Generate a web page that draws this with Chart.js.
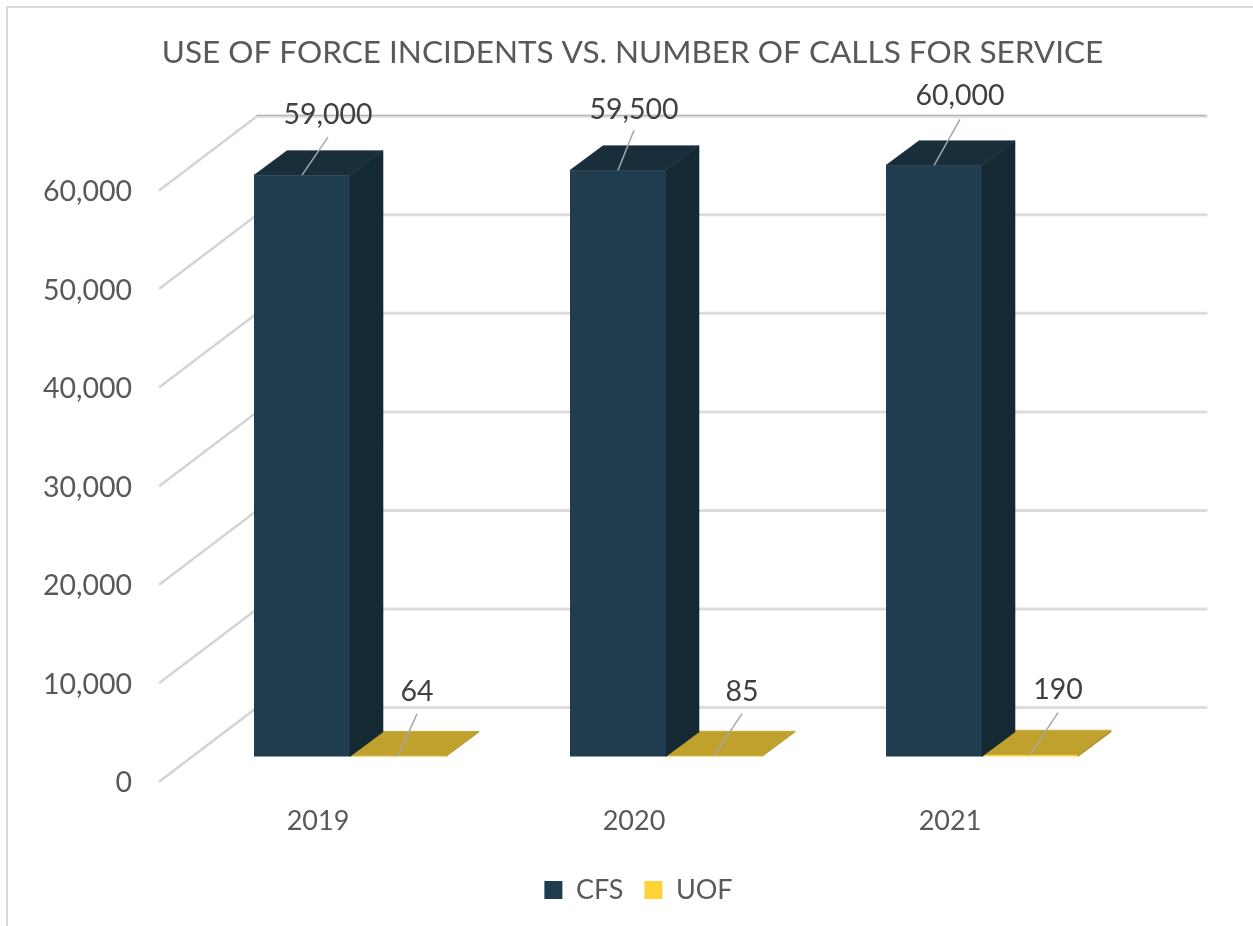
<!DOCTYPE html>
<html>
<head>
<meta charset="utf-8">
<title>Use of force incidents</title>
<script src="https://cdn.jsdelivr.net/npm/chart.js@4"></script>
<style>
  html, body { margin: 0; padding: 0; background: #fff; }
  #wrap { position: relative; width: 1253px; height: 926px; overflow: hidden; }
  #frame { position: absolute; left: 6px; top: 6px; width: 1253px; height: 926px; border: 2px solid #d9d9d9; box-sizing: border-box; }
  canvas { position: absolute; left: 0; top: 0; }
</style>
</head>
<body>
<div id="wrap">
  <canvas id="uofChart" width="1253" height="926"></canvas>
  <div id="frame"></div>
</div>
<script>
const years = ["2019", "2020", "2021"];
const cfs = [59000, 59500, 60000];
const uof = [64, 85, 190];
const yTicks = [0, 10000, 20000, 30000, 40000, 50000, 60000];

const FONT = "Lato, Carlito, sans-serif";

// faux 3D: bars sit one depth back from the axis plane, the wall is three depths back
const FRONT_X = 32;
const DEPTH_X = 33;
const DEPTH_Y = 24.5;
const WALL_X = 97;
const WALL_Y = DEPTH_Y * 3;

const seriesFaces = [
    { side: "#152932", top: "#182f3b" },
    { side: "#a68a24", top: "#c1a12d" }
];

// leader line end and label centre, relative to the middle of the bar's front top edge
const leaders = [
    [{ dx: 26, dy: -38, ly: -60 }, { dx: 16, dy: -40, ly: -60 }, { dx: 26, dy: -46, ly: -69 }],
    [{ dx: 19, dy: -42, ly: -64 }, { dx: 28, dy: -42, ly: -64 }, { dx: 28, dy: -42, ly: -65 }]
];

const fmt = v => v.toLocaleString("en-US");

function line(ctx, x1, y1, x2, y2) {
    ctx.beginPath();
    ctx.moveTo(x1, y1);
    ctx.lineTo(x2, y2);
    ctx.stroke();
}

function poly(ctx, pts, fill) {
    ctx.fillStyle = fill;
    ctx.strokeStyle = fill;
    ctx.lineWidth = 0.6;
    ctx.beginPath();
    pts.forEach((p, i) => i ? ctx.lineTo(p[0], p[1]) : ctx.moveTo(p[0], p[1]));
    ctx.closePath();
    ctx.fill();
    ctx.stroke();
}

const box3d = {
    id: "box3d",
    afterLayout(chart) {
        // nudge the legend row a little right of centre
        chart.legend.left += 6;
        chart.legend.right += 6;
    },
    beforeDatasetsDraw(chart) {
        const { ctx, chartArea, scales } = chart;
        ctx.save();
        ctx.lineCap = "round";
        yTicks.forEach(t => {
            const y = scales.y.getPixelForValue(t);
            ctx.strokeStyle = "#d4d4d4";
            ctx.lineWidth = 2.5;
            line(ctx, chartArea.left, y, chartArea.left + WALL_X, y - WALL_Y);
            ctx.strokeStyle = "#dcdcdc";
            ctx.lineWidth = 3;
            line(ctx, chartArea.left + WALL_X, y - WALL_Y, chartArea.right + WALL_X + 1, y - WALL_Y);
        });
        // top edge of the wall is a touch darker
        const top = scales.y.getPixelForValue(60000) - WALL_Y - 1;
        ctx.strokeStyle = "#adadad";
        ctx.lineWidth = 1;
        line(ctx, chartArea.left + WALL_X, top, chartArea.right + WALL_X + 1, top);
        ctx.restore();
    },
    beforeDatasetDraw(chart) {
        chart.ctx.save();
        chart.ctx.translate(FRONT_X, -DEPTH_Y);
    },
    afterDatasetDraw(chart, args) {
        const { ctx } = chart;
        const faces = seriesFaces[args.index];
        args.meta.data.forEach(bar => {
            const l = bar.x - bar.width / 2;
            const r = bar.x + bar.width / 2;
            poly(ctx, [[r, bar.y], [r + DEPTH_X, bar.y - DEPTH_Y], [r + DEPTH_X, bar.base - DEPTH_Y], [r, bar.base]], faces.side);
            poly(ctx, [[l, bar.y], [l + DEPTH_X, bar.y - DEPTH_Y], [r + DEPTH_X, bar.y - DEPTH_Y], [r, bar.y]], faces.top);
        });
        ctx.restore();
    },
    afterDraw(chart) {
        const { ctx } = chart;
        ctx.save();
        ctx.font = "28.5px " + FONT;
        ctx.textAlign = "center";
        ctx.textBaseline = "middle";
        chart.data.datasets.forEach((ds, i) => {
            chart.getDatasetMeta(i).data.forEach((bar, j) => {
                const x = bar.x + FRONT_X;
                const y = bar.y - DEPTH_Y;
                const o = leaders[i][j];
                ctx.strokeStyle = "#a6a6a6";
                ctx.lineWidth = 1.5;
                line(ctx, x, y, x + o.dx, y + o.dy);
                ctx.fillStyle = "#404040";
                ctx.fillText(fmt(ds.data[j]), x + o.dx, y + o.ly);
            });
        });
        ctx.restore();
    }
};

new Chart(document.getElementById("uofChart"), {
    type: "bar",
    data: {
        labels: years,
        datasets: [
            { label: "CFS", data: cfs, backgroundColor: "#1f3d4f", clip: false },
            { label: "UOF", data: uof, backgroundColor: "#ffd338", clip: false }
        ]
    },
    plugins: [box3d],
    options: {
        responsive: false,
        animation: false,
        events: [],
        layout: { padding: { left: 12, right: 0, top: 0, bottom: 12.5 } },
        datasets: { bar: { categoryPercentage: 0.6076, barPercentage: 1 } },
        scales: {
            x: {
                grid: { display: false },
                border: { display: false },
                ticks: { color: "#595959", font: { family: FONT, size: 27 }, padding: 16.5, maxRotation: 0 },
                afterFit: s => { s.height = 74.5; }
            },
            y: {
                min: 0,
                max: 60000,
                grid: { display: false },
                border: { display: false },
                afterBuildTicks: s => { s.ticks = yTicks.map(v => ({ value: v })); },
                ticks: {
                    color: "#595959",
                    font: { family: FONT, size: 28.5 },
                    padding: 20,
                    labelOffset: 2,
                    callback: v => fmt(v)
                },
                afterFit: s => { s.width = 148; }
            },
            // empty axis that only reserves the room the wall needs on the right
            rightGutter: {
                type: "linear",
                position: "right",
                grid: { display: false },
                border: { display: false },
                ticks: { display: false },
                afterFit: s => { s.width = 145; }
            }
        },
        plugins: {
            tooltip: { enabled: false },
            title: {
                display: true,
                text: "USE OF FORCE INCIDENTS VS. NUMBER OF CALLS FOR SERVICE",
                color: "#595959",
                font: { family: FONT, size: 31.5, weight: "normal" },
                padding: { top: 34, bottom: 118 }
            },
            legend: {
                position: "bottom",
                labels: {
                    color: "#595959",
                    font: { family: FONT, size: 27 },
                    boxWidth: 18,
                    boxHeight: 18,
                    padding: 21
                }
            }
        }
    }
});
</script>
</body>
</html>
